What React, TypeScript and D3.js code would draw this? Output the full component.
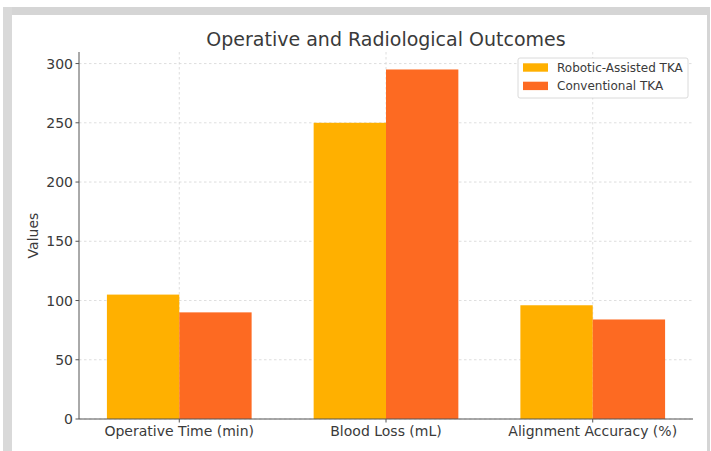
import * as d3 from 'd3';

const categories = ['Operative Time (min)', 'Blood Loss (mL)', 'Alignment Accuracy (%)'];
const seriesNames = ['Robotic-Assisted TKA', 'Conventional TKA'];
const roboticValues = [105, 250, 96];
const conventionalValues = [90, 295, 84];
const yTicks = [0, 50, 100, 150, 200, 250, 300];
const colors = ['#FFB000', '#FD6A22'];

const W = 711;
const H = 451;
const left = 79;
const right = 693;
const top = 52;
const bottom = 419;
const barWidth = 0.35;
const font = 'DejaVu Sans, sans-serif';

const App = () => {
  const series = [roboticValues, conventionalValues];
  const maxVal = d3.max(series.flat()) as number;

  const x = d3.scaleLinear()
    .domain([-barWidth - 0.05 * (categories.length - 1 + 2 * barWidth), categories.length - 1 + barWidth + 0.05 * (categories.length - 1 + 2 * barWidth)])
    .range([left, right]);
  const y = d3.scaleLinear().domain([0, maxVal * 1.05]).range([bottom, top]);

  return (
    <svg width={W} height={H} style={{ position: 'absolute', left: 0, top: 0, display: 'block', background: '#fff' }} fontFamily={font}>
      {/* screenshot frame */}
      <rect x={3} y={7} width={707} height={8} fill="#d5d5d5" />
      <rect x={3} y={7} width={9} height={H - 7} fill="#d9d9d9" />
      <rect x={707} y={7} width={3} height={H - 7} fill="#d5d5d5" />

      {/* grid */}
      {yTicks.map(t => (
        <line key={'gy' + t} x1={left} x2={right} y1={y(t)} y2={y(t)} stroke="#d6d6d6" strokeWidth={0.8} strokeDasharray="2.5,2.5" />
      ))}
      {categories.map((c, i) => (
        <line key={'gx' + c} x1={x(i)} x2={x(i)} y1={top} y2={bottom} stroke="#d6d6d6" strokeWidth={0.8} strokeDasharray="2.5,2.5" />
      ))}

      {/* bars */}
      {series.map((vals, s) => vals.map((v, i) => {
        const x0 = x(i + (s - 1) * barWidth);
        const x1 = x(i + s * barWidth);
        return (
          <rect key={`b${s}-${i}`} x={x0} y={y(v)} width={x1 - x0} height={bottom - y(v)} fill={colors[s]} />
        );
      }))}

      {/* axes */}
      <line x1={left} x2={left} y1={top} y2={bottom} stroke="#555" strokeWidth={1} />
      <line x1={left} x2={right} y1={bottom} y2={bottom} stroke="#555" strokeWidth={1} />
      {yTicks.map(t => (
        <g key={'ty' + t}>
          <line x1={left - 3.5} x2={left} y1={y(t)} y2={y(t)} stroke="#555" />
          <text x={left - 6} y={y(t)} dy="0.36em" textAnchor="end" fontSize={14} fill="#3a3a3a">{t}</text>
        </g>
      ))}
      {categories.map((c, i) => (
        <g key={'tx' + c}>
          <line x1={x(i)} x2={x(i)} y1={bottom} y2={bottom + 3.5} stroke="#555" />
          <text x={x(i)} y={436} textAnchor="middle" fontSize={14} fill="#3a3a3a">{c}</text>
        </g>
      ))}

      <text transform={`translate(38,${(top + bottom) / 2}) rotate(-90)`} textAnchor="middle" fontSize={14} fill="#3a3a3a">Values</text>
      <text x={(left + right) / 2} y={46} textAnchor="middle" fontSize={19} fill="#3a3a3a">Operative and Radiological Outcomes</text>

      {/* legend */}
      <rect x={518} y={58} width={170} height={40} rx={2} fill="#fff" fillOpacity={0.9} stroke="#d0d0d0" strokeWidth={0.8} />
      {seriesNames.map((n, s) => (
        <g key={n} transform={`translate(0,${67.5 + s * 18.4})`}>
          <rect x={523} y={-4.2} width={25} height={8.4} fill={colors[s]} />
          <text x={557} y={0} dy="0.36em" fontSize={12} fill="#3a3a3a">{n}</text>
        </g>
      ))}
    </svg>
  );
};

export default App;
